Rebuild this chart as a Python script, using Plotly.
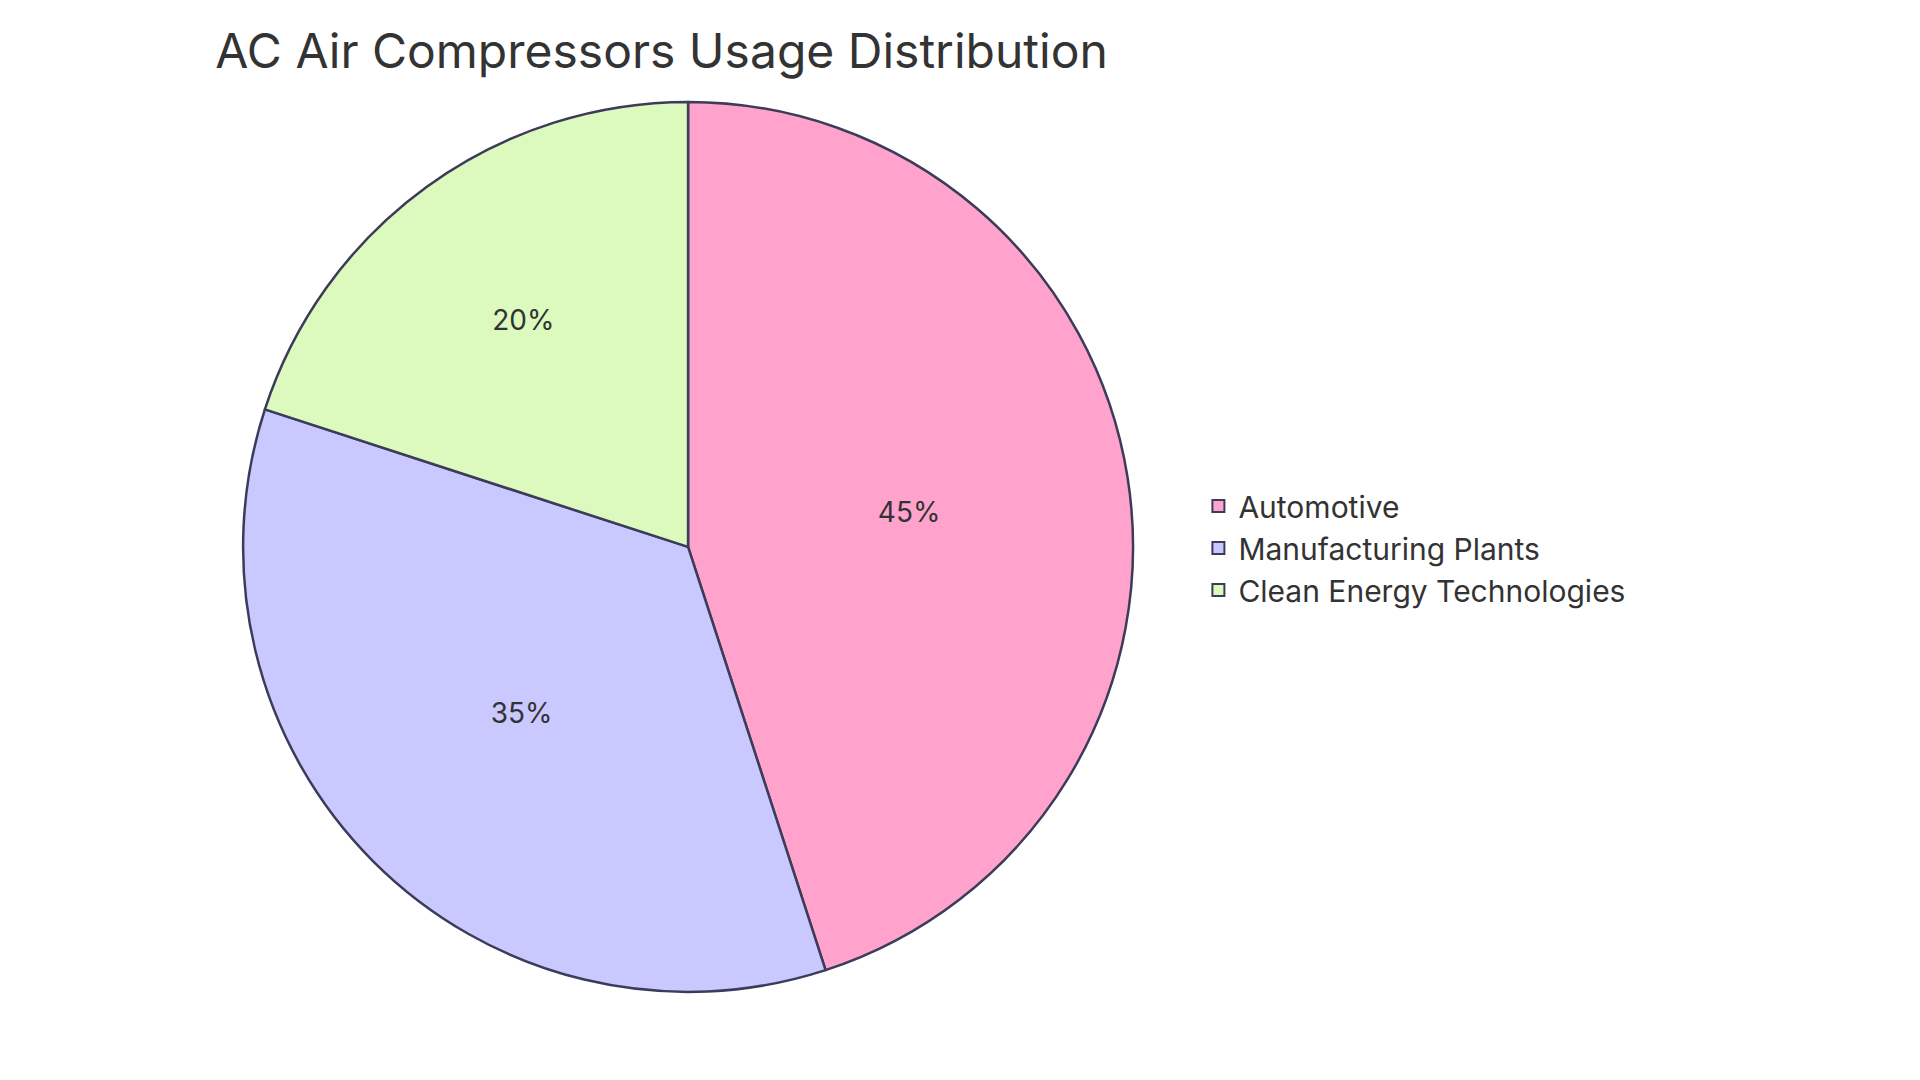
import plotly.graph_objects as go

labels = ["Automotive", "Manufacturing Plants", "Clean Energy Technologies"]
values = [45, 35, 20]
colors = ["#FFA3CD", "#C9C9FF", "#DCFABD"]

fig = go.Figure(go.Pie(
    labels=labels, values=values, sort=False, direction="clockwise", rotation=0,
    marker=dict(colors=colors, line=dict(color="#3C3C5A", width=2.5)),
    texttemplate="%{percent:.0%}", textposition="inside", insidetextorientation="horizontal",
    textfont=dict(size=28, color="#333333"),
    domain=dict(x=[0.1224, 0.586], y=[0.089, 0.913]),
))
fig.update_layout(
    width=1920, height=1080, autosize=False,
    margin=dict(l=0, r=0, t=0, b=0),
    paper_bgcolor="white", plot_bgcolor="white",
    font=dict(family="Inter, Open Sans, sans-serif", color="#333333"),
    title=dict(text="AC Air Compressors Usage Distribution", x=0.108, xanchor="left",
               y=0.96, yanchor="middle", font=dict(size=48, color="#333333")),
    legend=dict(x=0.62, y=0.5, xanchor="left", yanchor="middle",
                font=dict(size=30, color="#333333"), itemsizing="constant", tracegroupgap=10),
)
fig.write_html("out.html")
